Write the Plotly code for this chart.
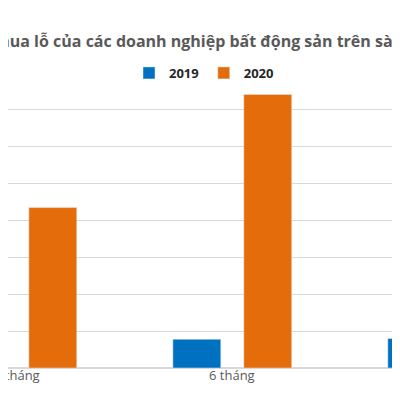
import plotly.graph_objects as go

categories = ['3 tháng', '6 tháng', '9 tháng']
loss_2019 = [0.6, 0.78, 0.8]
loss_2020 = [4.35, 7.42, 7.9]
cat_x = [0, 1, 2]

fig = go.Figure()
fig.add_trace(go.Bar(x=cat_x, y=loss_2019, name='2019', marker_color='#0070C0',
                     width=0.223, offset=-0.275))
fig.add_trace(go.Bar(x=cat_x, y=loss_2020, name='2020', marker_color='#E46C0A',
                     width=0.223, offset=0.055))

# red highlight box, cut at the right edge
fig.add_shape(type='rect', xref='paper', yref='paper', x0=0.9875, x1=1.01, y0=0.881, y1=0.99,
              fillcolor='#E8202A', line_width=0, layer='above')

fig.add_annotation(text='Thua lỗ của các doanh nghiệp bất động sản trên sàn chứng khoán', xref='paper', yref='paper',
                   x=-0.05, y=1.11, xanchor='left', yanchor='middle', showarrow=False,
                   font=dict(size=16, color='#595959', family='Open Sans', weight='bold'))

# category labels as annotations so partly cut labels still show
for cx, label in zip(cat_x, categories):
    fig.add_annotation(text=label, x=cx, y=0, xref='x', yref='paper', yshift=-18,
                       showarrow=False, font=dict(size=13, color='#595959', family='Open Sans'))

fig.update_layout(
    width=400, height=400, margin=dict(l=0, r=0, t=65, b=40, autoexpand=False),
    plot_bgcolor='white', paper_bgcolor='white', barmode='overlay',
    showlegend=True,
    legend=dict(orientation='h', x=0.49, y=1.0, xanchor='center', yanchor='middle',
                bgcolor='white', font=dict(size=13, color='#262626', family='Open Sans', weight='bold'),
                itemwidth=30, traceorder='normal'),
    xaxis=dict(range=[-0.042, 1.819], showticklabels=False, showgrid=False,
               showline=False, zeroline=False),
    yaxis=dict(range=[0, 8], dtick=1, showticklabels=False, gridcolor='#D9D9D9', gridwidth=1,
               zeroline=True, zerolinecolor='#D9D9D9'),
)
fig.write_html('out.html')
